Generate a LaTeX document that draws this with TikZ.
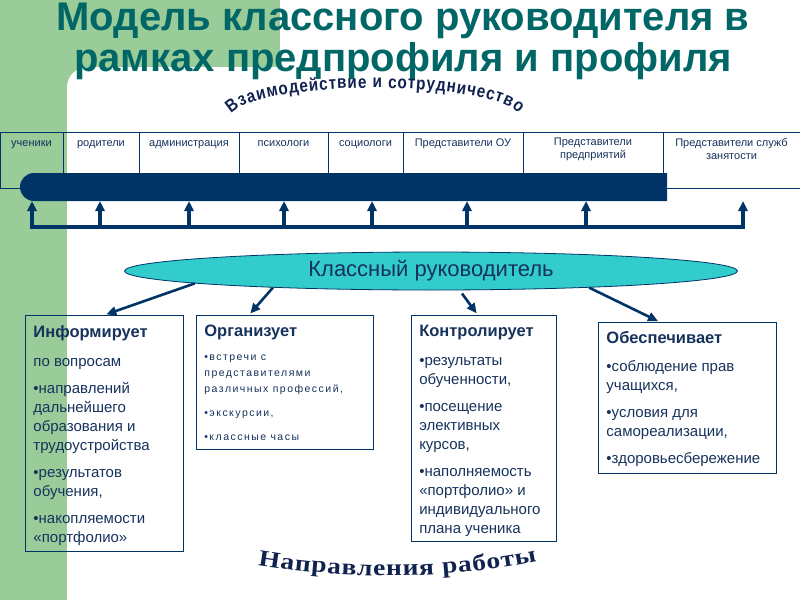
\documentclass[tikz,border=0pt]{standalone}
\usepackage{fontspec}
\setmainfont{Liberation Sans}
\newfontfamily\serifwide[FakeStretch=1.2]{Liberation Serif}
\newfontfamily\sansnarrow[FakeStretch=0.85]{Liberation Sans}
\usetikzlibrary{arrows.meta,positioning,shapes.geometric,decorations.text}

\definecolor{bggreen}{RGB}{153,204,153}
\definecolor{titleteal}{RGB}{0,102,102}
\definecolor{barnavy}{RGB}{0,51,102}
\definecolor{textnavy}{RGB}{22,50,92}
\definecolor{wordnavy}{RGB}{16,34,80}
\definecolor{turquoise}{RGB}{51,204,204}

\newcommand{\boxhead}[1]{{\normalfont\bfseries\fontsize{16.5}{19}\selectfont #1}\par}
\newcommand{\bigbody}{\raggedright\hyphenpenalty=10000\fontsize{15}{19}\selectfont\setlength{\parskip}{8pt}}
\newcommand{\smallbody}{\raggedright\hyphenpenalty=10000\fontsize{10.5}{16}\selectfont\addfontfeature{LetterSpace=14}\setlength{\parskip}{8pt}}
\newcommand{\wordsans}{\sansnarrow\bfseries\fontsize{18}{18}\selectfont}
\newcommand{\wordserif}{\serifwide\bfseries\fontsize{23}{23}\selectfont}

\begin{document}
\begin{tikzpicture}[
    x=1pt, y=-1pt,
    cell/.style={draw=barnavy, line width=0.6pt, anchor=north west, minimum height=56pt, inner sep=0pt, outer sep=0pt},
    celltext/.style={anchor=north, yshift=-6pt, inner sep=0pt, align=center, text=textnavy, font=\fontsize{11}{13}\selectfont, execute at begin node={\rule{0pt}{8pt}}},
    barnode/.style={minimum width=647pt, minimum height=28pt, inner sep=0pt, outer sep=0pt},
    uparrow/.style={draw=barnavy, line width=3.2pt, -{Triangle[length=10pt, width=9pt]}},
    rail/.style={draw=barnavy, line width=3.4pt, line cap=rect},
    teacheroval/.style={ellipse, draw=barnavy, line width=0.8pt, fill=turquoise, minimum width=613pt, minimum height=38pt, inner sep=0pt, text=textnavy, font=\fontsize{22}{26}\selectfont},
    infobox/.style={draw=barnavy, line width=0.9pt, anchor=north west, inner xsep=8pt, inner ysep=0pt, text=textnavy},
    pointer/.style={draw=barnavy, line width=2.6pt, shorten >=2pt, -{Triangle[length=10pt, width=9pt]}},
    titletext/.style={anchor=base, inner sep=0pt, text=titleteal, font=\bfseries\fontsize{40}{42}\selectfont}
]
\useasboundingbox (0,0) rectangle (800,600);

% Background
\fill[bggreen] (0,0) rectangle (280,67);
\fill[bggreen] (0,0) rectangle (67,600);
\fill[bggreen] (67,67) -- (87,67) arc[start angle=90, end angle=180, radius=20pt] -- cycle;

% Title
\node[titletext] (titletop) at (403,30) {Модель классного руководителя в};
\node[titletext] (titlebottom) at (403,71) {рамках предпрофиля и профиля};

% Arched captions
\path[decorate, decoration={text along path, text align=fit to path, text color=wordnavy,
    text={|\wordsans|Взаимодействие и сотрудничество}}]
    (231.4,113.8) arc[start angle=172, end angle=8, x radius=145pt, y radius=30pt];
\path[decorate, decoration={text along path, text align=fit to path, text color=wordnavy,
    text={|\wordserif|Направления работы}}]
    (258,565) .. controls (350,580) and (445,580) .. (537,561);

% Partners
\node[cell, minimum width=63pt, label={[celltext]north:ученики}] (pupils) at (0,132) {};
\node[cell, minimum width=76pt, right=0pt of pupils, label={[celltext]north:родители}] (parents) {};
\node[cell, minimum width=100pt, right=0pt of parents, label={[celltext]north:администрация}] (administration) {};
\node[cell, minimum width=89pt, right=0pt of administration, label={[celltext]north:психологи}] (psychologists) {};
\node[cell, minimum width=75pt, right=0pt of psychologists, label={[celltext]north:социологи}] (sociologists) {};
\node[cell, minimum width=120pt, right=0pt of sociologists, label={[celltext]north:Представители ОУ}] (schoolreps) {};
\node[cell, minimum width=140pt, right=0pt of schoolreps, label={[celltext]north:Представители\\предприятий}] (firmreps) {};
\node[cell, minimum width=137pt, right=0pt of firmreps, label={[celltext]north:Представители служб\\занятости}] (jobreps) {};

% Bar
\node[barnode] (bar) at (343.5,187) {};
\fill[barnavy] (bar.north east) -- ([xshift=14pt]bar.north west) arc[start angle=90, end angle=270, radius=14pt] -- (bar.south east) -- cycle;

% Feedback arrows
\coordinate (foot1) at (32,227);
\coordinate (foot2) at (100,227);
\coordinate (foot3) at (189,227);
\coordinate (foot4) at (284,227);
\coordinate (foot5) at (372,227);
\coordinate (foot6) at (467,227);
\coordinate (foot7) at (586,227);
\coordinate (foot8) at (743,227);
\draw[rail] (foot1) -- (foot8);
\draw[uparrow] (foot1) -- (foot1 |- bar.south);
\draw[uparrow] (foot2) -- (foot2 |- bar.south);
\draw[uparrow] (foot3) -- (foot3 |- bar.south);
\draw[uparrow] (foot4) -- (foot4 |- bar.south);
\draw[uparrow] (foot5) -- (foot5 |- bar.south);
\draw[uparrow] (foot6) -- (foot6 |- bar.south);
\draw[uparrow] (foot7) -- (foot7 |- bar.south);
\draw[uparrow] (foot8) -- (foot8 |- bar.south);

% Class teacher
\node[teacheroval] (teacher) at (431,271) {Классный руководитель};

% Directions
\node[infobox] (inform) at (25,315) {\parbox[t][236pt][t]{142pt}{\bigbody\vspace*{2pt}%
\boxhead{Информирует}\vspace{2pt}
по вопросам\par
•направлений дальнейшего образования и трудоустройства\par
•результатов обучения,\par
•накопляемости «портфолио»}};
\node[infobox, right=12pt of inform.north east, anchor=north west] (organize) {\parbox[t][134pt][t]{161pt}{\smallbody\vspace*{2pt}%
\boxhead{Организует}
•встречи с представителями различных профессий,\par
•экскурсии,\par
•классные часы}};
\node[infobox, right=37pt of organize.north east, anchor=north west] (control) {\parbox[t][226pt][t]{129pt}{\bigbody\vspace*{2pt}%
\boxhead{Контролирует}\vspace{2pt}
•результаты обученности,\par
•посещение элективных курсов,\par
•наполняемость «портфолио» и индивидуального плана ученика}};
\node[infobox] (provide) at (598,322) {\parbox[t][151pt][t]{162pt}{\bigbody\vspace*{1pt}%
\boxhead{Обеспечивает}\vspace{1pt}
•соблюдение прав учащихся,\par
•условия для самореализации,\par
•здоровьесбережение}};

% Connect nodes
\draw[pointer] (teacher.183) -- (inform.north);
\draw[pointer] (teacher.186) -- (organize.118);
\draw[pointer, shorten <=4pt] (teacher.-34) -- (control.93);
\draw[pointer] (teacher.-6) -- (provide.110);

\end{tikzpicture}
\end{document}
